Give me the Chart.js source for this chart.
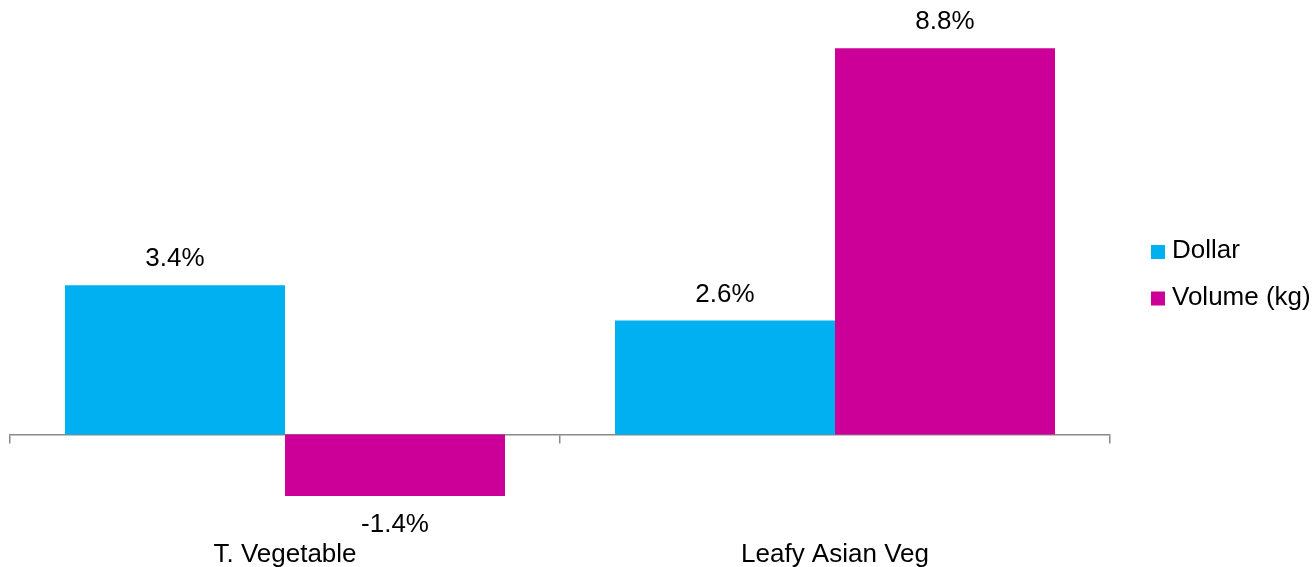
<!DOCTYPE html>
<html><head><meta charset="utf-8">
<script src="https://cdn.jsdelivr.net/npm/chart.js@4/dist/chart.umd.min.js"></script>
<style>html,body{margin:0;padding:0;background:#fff;} #wrap{width:1315px;height:567px;position:relative;}</style>
</head><body><div id="wrap"><canvas id="c"></canvas></div>
<script>
const categories = ['T. Vegetable', 'Leafy Asian Veg'];
const seriesNames = ['Dollar', 'Volume (kg)'];
const dollarValues = [3.4, 2.6];
const volumeValues = [-1.4, 8.8];
const seriesColors = ['#00B0F0', '#CC0099'];
const FONT = '"Liberation Sans", Arial, sans-serif';

const valueLabels = {
  id: 'valueLabels',
  afterDatasetsDraw(chart) {
    const ctx = chart.ctx;
    ctx.save();
    ctx.font = '26px ' + FONT;
    ctx.fillStyle = '#000';
    ctx.textAlign = 'center';
    ctx.textBaseline = 'middle';
    chart.data.datasets.forEach((ds, di) => {
      chart.getDatasetMeta(di).data.forEach((el, i) => {
        const v = ds.data[i];
        const txt = v.toFixed(1) + '%';
        const y = v >= 0 ? el.y - 26 : el.y + 29;
        ctx.fillText(txt, el.x, y);
      });
    });
    ctx.restore();
  }
};

const sideLegend = {
  id: 'sideLegend',
  afterDraw(chart) {
    const ctx = chart.ctx;
    const ca = chart.chartArea;
    ctx.save();
    ctx.font = '26px ' + FONT;
    ctx.textBaseline = 'middle';
    ctx.textAlign = 'left';
    chart.data.datasets.forEach((ds, i) => {
      const cy = 252 + i * 46.5;
      const x0 = ca.right + 41;
      ctx.fillStyle = ds.backgroundColor;
      ctx.fillRect(x0, cy - 7, 14, 14);
      ctx.fillStyle = '#000';
      ctx.fillText(ds.label, x0 + 21, cy - 1);
    });
    ctx.restore();
  }
};

new Chart(document.getElementById('c'), {
  type: 'bar',
  data: {
    labels: categories,
    datasets: [
      { label: seriesNames[0], data: dollarValues, backgroundColor: seriesColors[0], borderWidth: 0, xAxisID: 'x' },
      { label: seriesNames[1], data: volumeValues, backgroundColor: seriesColors[1], borderWidth: 0, xAxisID: 'x' }
    ]
  },
  options: {
    responsive: true,
    maintainAspectRatio: false,
    animation: false,
    events: [],
    datasets: { bar: { barPercentage: 1, categoryPercentage: 0.8 } },
    layout: { padding: { left: 10, right: 205, top: 13, bottom: -20 } },
    plugins: { legend: { display: false }, tooltip: { enabled: false } },
    scales: {
      y: { display: false, min: -2, max: 9.6 },
      x: {
        type: 'category',
        position: { y: 0 },
        offset: true,
        grid: { offset: true, drawOnChartArea: false, drawTicks: true, tickLength: 8, color: '#898989', lineWidth: 1.5 },
        border: { display: true, color: '#898989', width: 1.5 },
        ticks: { display: false }
      },
      x2: {
        type: 'category',
        position: 'bottom',
        labels: categories,
        offset: true,
        grid: { display: false, drawTicks: false },
        border: { display: false },
        ticks: { padding: 18, color: '#000', font: { family: FONT, size: 26, lineHeight: 1.1 }, maxRotation: 0, autoSkip: false }
      }
    }
  },
  plugins: [valueLabels, sideLegend]
});
</script>
</body></html>
